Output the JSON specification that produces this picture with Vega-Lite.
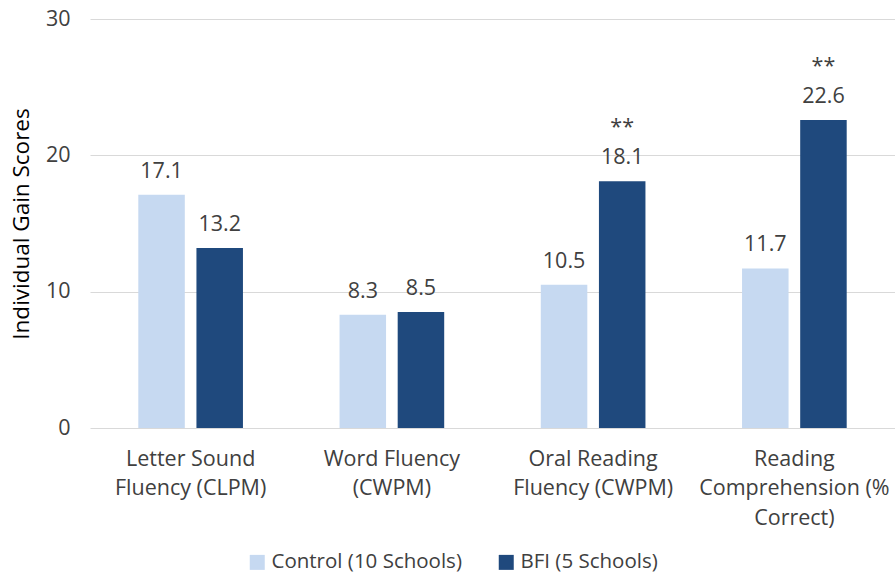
{
  "$schema": "https://vega.github.io/schema/vega-lite/v6.json",
  "width": 805,
  "height": 409,
  "autosize": {"type": "none"},
  "padding": {"left": 90, "top": 19, "right": 0, "bottom": 156},
  "background": "white",
  "config": {
    "view": {"stroke": null},
    "font": "Open Sans",
    "text": {"font": "Open Sans"}
  },
  "data": {
    "values": [
      {"measure": "Letter Sound|Fluency (CLPM)", "group": "Control (10 Schools)", "value": 17.1, "sig": ""},
      {"measure": "Letter Sound|Fluency (CLPM)", "group": "BFI (5 Schools)", "value": 13.2, "sig": ""},
      {"measure": "Word Fluency|(CWPM)", "group": "Control (10 Schools)", "value": 8.3, "sig": ""},
      {"measure": "Word Fluency|(CWPM)", "group": "BFI (5 Schools)", "value": 8.5, "sig": ""},
      {"measure": "Oral Reading|Fluency (CWPM)", "group": "Control (10 Schools)", "value": 10.5, "sig": ""},
      {"measure": "Oral Reading|Fluency (CWPM)", "group": "BFI (5 Schools)", "value": 18.1, "sig": "**"},
      {"measure": "Reading|Comprehension (%|Correct)", "group": "Control (10 Schools)", "value": 11.7, "sig": ""},
      {"measure": "Reading|Comprehension (%|Correct)", "group": "BFI (5 Schools)", "value": 22.6, "sig": "**"}
    ]
  },
  "encoding": {
    "x": {
      "field": "measure",
      "type": "nominal",
      "sort": null,
      "scale": {"paddingInner": 0.48, "paddingOuter": 0.24},
      "axis": {
        "title": null,
        "labelAngle": 0,
        "labelExpr": "split(datum.label, '|')",
        "labelFont": "Open Sans",
        "labelFontSize": 21.5,
        "labelColor": "#404040",
        "labelLineHeight": 29.5,
        "labelPadding": 20,
        "labelBaseline": "top",
        "labelLimit": 300,
        "ticks": false,
        "domain": false
      }
    },
    "xOffset": {
      "field": "group",
      "type": "nominal",
      "sort": ["Control (10 Schools)", "BFI (5 Schools)"],
      "scale": {"paddingInner": 0.2}
    },
    "y": {
      "field": "value",
      "type": "quantitative",
      "scale": {"domain": [0, 30]},
      "axis": {
        "title": "Individual Gain Scores",
        "titleFont": "Open Sans",
        "titleFontSize": 22.5,
        "titleFontWeight": "normal",
        "titleColor": "#000000",
        "titlePadding": 12,
        "values": [0, 10, 20, 30],
        "labelFont": "Open Sans",
        "labelFontSize": 21.5,
        "labelColor": "#404040",
        "labelPadding": 20,
        "ticks": false,
        "domain": false,
        "gridColor": "#D9D9D9",
        "gridWidth": 1.2
      }
    }
  },
  "layer": [
    {
      "mark": {"type": "bar"},
      "encoding": {
        "color": {
          "field": "group",
          "type": "nominal",
          "sort": ["Control (10 Schools)", "BFI (5 Schools)"],
          "scale": {"domain": ["Control (10 Schools)", "BFI (5 Schools)"], "range": ["#C6D9F1", "#1F497D"]},
          "legend": {
            "title": null,
            "orient": "none",
            "direction": "horizontal",
            "legendX": 157,
            "legendY": 533,
            "symbolType": "square",
            "symbolSize": 225,
            "symbolStrokeWidth": 0,
            "labelFont": "Open Sans",
            "labelFontSize": 20.5,
            "labelColor": "#404040",
            "labelOffset": 4,
            "labelLimit": 400,
            "columnPadding": 34
          }
        }
      }
    },
    {
      "mark": {"type": "text", "baseline": "alphabetic", "dy": -17, "fontSize": 21.5, "color": "#404040", "font": "Open Sans"},
      "encoding": {
        "text": {"field": "value", "type": "quantitative", "format": ".1f"}
      }
    },
    {
      "mark": {"type": "text", "baseline": "alphabetic", "dy": -47, "fontSize": 21.5, "color": "#404040", "font": "Open Sans"},
      "encoding": {
        "text": {"field": "sig", "type": "nominal"}
      }
    }
  ]
}
